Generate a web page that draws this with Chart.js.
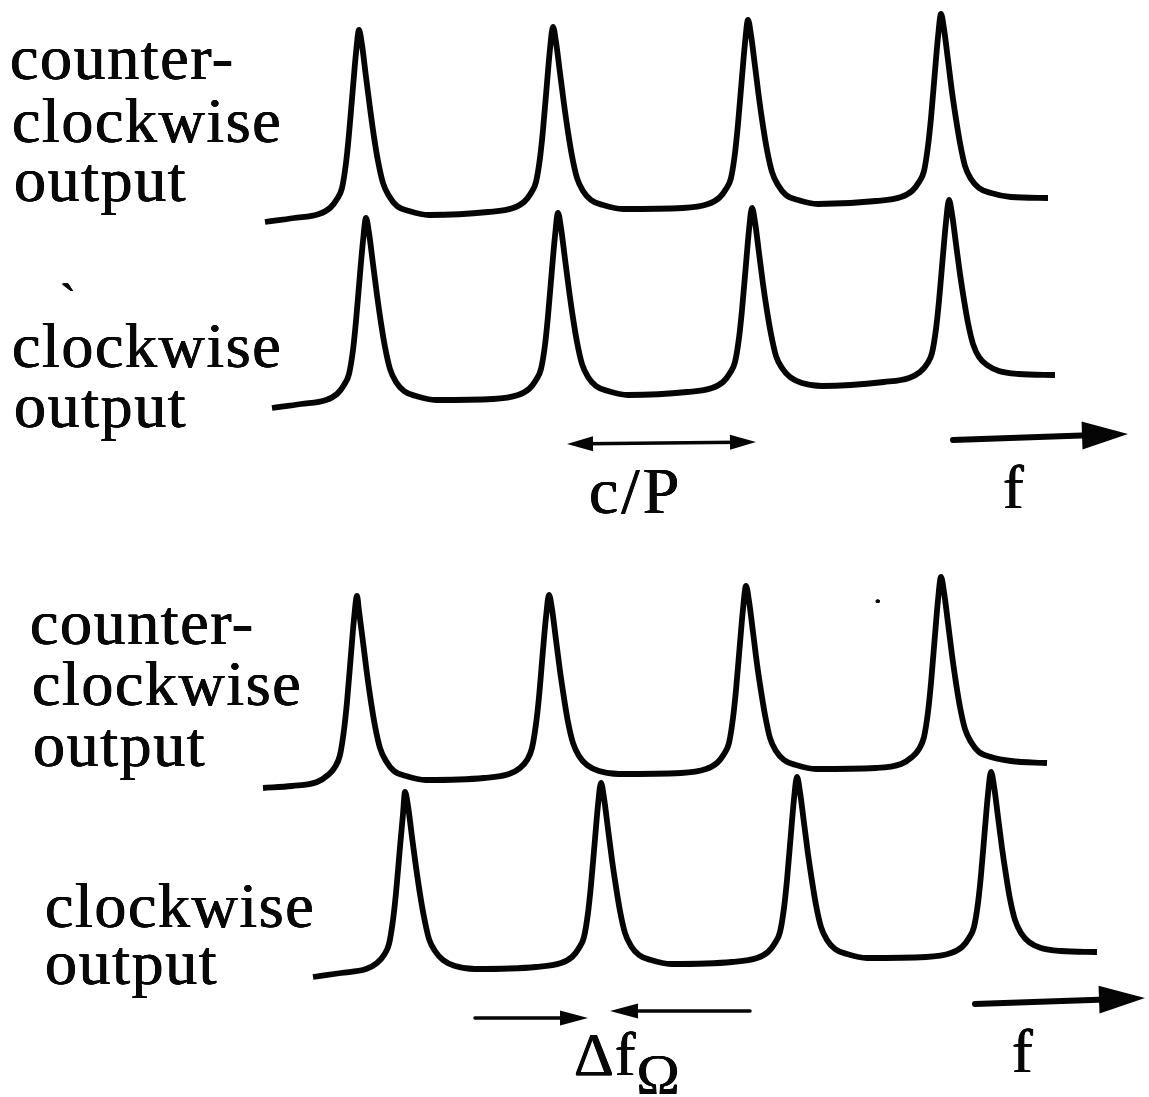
<!DOCTYPE html>
<html>
<head>
<meta charset="utf-8">
<title>Ring resonator outputs</title>
<script src="https://cdn.jsdelivr.net/npm/chart.js@4.4.1/dist/chart.umd.min.js"></script>
<style>
  html, body { margin: 0; padding: 0; background: #fff; }
  #fig { position: relative; width: 1149px; height: 1097px; overflow: hidden; background: #fff; }
  #fig canvas { position: absolute; left: 0; top: 0; }
  .lbl { position: absolute; white-space: nowrap; line-height: 1;
         font-family: 'Liberation Serif', 'Times New Roman', serif; color: #080808;
         text-shadow: 0.45px 0 0 #080808, -0.45px 0 0 #080808, 0 0.3px 0 #080808; }
</style>
</head>
<body>
<div id="fig">
  <canvas id="ccwTop" width="1149" height="1097"></canvas>
  <canvas id="cwTop" width="1149" height="1097"></canvas>
  <canvas id="ccwRot" width="1149" height="1097"></canvas>
  <canvas id="cwRot" width="1149" height="1097"></canvas>
</div>
<script>
// ---------------------------------------------------------------
// Data: transmitted intensity (arb. units) versus frequency (arb. units)
// ---------------------------------------------------------------
const freqRange = [0, 1149];

// Resting resonator: both directions resonate at the same frequencies
const ccwTopFreq  = [265, 294, 319, 330, 337, 342, 346, 349, 353, 356, 359, 362, 366, 370, 374, 378, 383, 389, 397, 409, 429,
                     488, 513, 524, 531, 536, 540, 543, 547, 550, 553, 556, 560, 564, 568, 572, 577, 583, 591, 603, 623,
                     683, 708, 719, 726, 731, 735, 738, 742, 745, 748, 751, 755, 759, 763, 767, 772, 778, 786, 798, 818,
                     876, 901, 912, 919, 924, 928, 931, 935, 938, 941, 944, 948, 952, 956, 960, 965, 971, 979, 991, 1011, 1048];
const ccwTopLevel = [8, 12, 16, 22, 31, 42, 67, 96, 143, 177, 200, 185, 153, 122, 93, 69, 47, 34, 24, 19, 15,
                     18, 22, 28, 37, 48, 72, 100, 147, 181, 203, 188, 157, 126, 98, 74, 52, 39, 30, 25, 21,
                     22, 26, 32, 41, 52, 77, 106, 153, 187, 210, 195, 164, 132, 104, 80, 58, 45, 35, 30, 26,
                     29, 33, 39, 48, 59, 84, 112, 159, 193, 216, 201, 170, 138, 111, 87, 64, 51, 42, 37, 33, 32];

const cwTopFreq   = [272, 301, 326, 337, 344, 349, 353, 356, 360, 363, 366, 369, 373, 377, 381, 385, 390, 396, 404, 416, 436,
                     493, 518, 529, 536, 541, 545, 548, 552, 555, 558, 561, 565, 569, 573, 577, 582, 588, 596, 608, 628,
                     687, 712, 723, 730, 735, 739, 742, 746, 749, 752, 755, 759, 763, 767, 771, 776, 782, 790, 802, 822,
                     884, 909, 920, 927, 932, 936, 939, 943, 946, 949, 952, 956, 960, 964, 968, 973, 979, 987, 999, 1019, 1055];
const cwTopLevel  = [12, 16, 20, 26, 35, 46, 70, 99, 146, 179, 202, 187, 156, 125, 97, 73, 51, 38, 29, 24, 20,
                     21, 25, 31, 40, 51, 75, 104, 151, 184, 207, 192, 161, 130, 102, 78, 56, 43, 34, 29, 25,
                     28, 32, 38, 47, 58, 82, 110, 156, 190, 212, 198, 167, 136, 109, 86, 64, 52, 43, 37, 34,
                     38, 42, 48, 56, 67, 91, 119, 165, 198, 220, 206, 176, 146, 120, 97, 76, 63, 55, 49, 46, 45];

// Rotating resonator: clockwise resonances shifted up by the Sagnac splitting
const ccwRotFreq  = [263, 292, 317, 328, 335, 340, 344, 347, 351, 354, 357, 359, 363, 367, 371, 375, 380, 386, 394, 406, 426,
                     484, 509, 520, 527, 532, 536, 539, 543, 546, 549, 552, 556, 560, 564, 568, 573, 579, 587, 599, 619,
                     681, 706, 717, 724, 729, 733, 736, 740, 743, 746, 749, 753, 757, 761, 765, 770, 776, 784, 796, 816,
                     876, 901, 912, 919, 924, 928, 931, 935, 938, 941, 944, 948, 952, 956, 960, 965, 971, 979, 991, 1011, 1047];
const ccwRotLevel = [12, 14, 18, 25, 33, 45, 70, 98, 146, 181, 204, 189, 158, 126, 98, 74, 52, 39, 29, 24, 20,
                     22, 26, 32, 40, 52, 76, 103, 150, 183, 205, 191, 160, 129, 102, 78, 57, 44, 35, 29, 26,
                     27, 31, 37, 46, 57, 82, 110, 157, 191, 214, 199, 168, 136, 109, 85, 62, 49, 40, 35, 31,
                     32, 36, 43, 51, 63, 88, 117, 165, 200, 223, 208, 177, 145, 117, 93, 71, 58, 48, 43, 39, 37];

const cwRotFreq   = [313, 341, 366, 377, 384, 389, 393, 396, 400, 403, 405, 408, 412, 416, 420, 424, 429, 435, 443, 455, 475,
                     536, 561, 572, 579, 584, 588, 591, 595, 598, 601, 604, 608, 612, 616, 620, 625, 631, 639, 651, 671,
                     732, 757, 768, 775, 780, 784, 787, 791, 794, 797, 800, 804, 808, 812, 816, 821, 827, 835, 847, 867,
                     926, 951, 962, 969, 974, 978, 981, 985, 988, 991, 994, 998, 1002, 1006, 1010, 1015, 1021, 1029, 1041, 1061, 1097];
const cwRotLevel  = [8, 12, 16, 22, 30, 41, 65, 92, 138, 171, 193, 179, 148, 118, 91, 68, 46, 34, 25, 19, 16,
                     18, 22, 28, 37, 48, 72, 100, 146, 180, 202, 187, 156, 125, 98, 74, 52, 39, 30, 25, 21,
                     23, 27, 33, 42, 53, 77, 105, 152, 186, 208, 193, 162, 131, 104, 80, 58, 45, 36, 31, 27,
                     28, 32, 38, 47, 58, 82, 110, 157, 191, 213, 199, 168, 137, 110, 86, 65, 52, 43, 37, 34, 33];

// Interval markers (frequency, level below each trace's zero)
const periodMarkFreq  = [567, 756];   // c/P : free spectral range
const periodMarkLevel = [-24, -22];
const topAxisFreq     = [953, 1128];  // direction of increasing f
const topAxisLevel    = [-20, -14];
const shiftRightFreq  = [475, 588];   // Δf_Ω, pointing in from the left
const shiftRightLevel = [-33, -33];
const shiftLeftFreq   = [750, 610];   // Δf_Ω, pointing in from the right
const shiftLeftLevel  = [-26, -26];
const rotAxisFreq     = [975, 1145];
const rotAxisLevel    = [-19, -13];

// ---------------------------------------------------------------
// Layout
// ---------------------------------------------------------------
const FIG_H = 1097;
const INK = '#050505';

const traces = [
  { id: 'ccwTop', freq: ccwTopFreq, level: ccwTopLevel, floor: 230, marks: [] },
  { id: 'cwTop',  freq: cwTopFreq,  level: cwTopLevel,  floor: 420, marks: [
      { f: periodMarkFreq, v: periodMarkLevel, width: 3.5, head: [26, 7.5], both: true },
      { f: topAxisFreq,    v: topAxisLevel,    width: 6,   head: [46, 14],  both: false } ] },
  { id: 'ccwRot', freq: ccwRotFreq, level: ccwRotLevel, floor: 800, marks: [] },
  { id: 'cwRot',  freq: cwRotFreq,  level: cwRotLevel,  floor: 985, marks: [
      { f: shiftRightFreq, v: shiftRightLevel, width: 3.5, head: [28, 7.5], both: false },
      { f: shiftLeftFreq,  v: shiftLeftLevel,  width: 3.5, head: [28, 7.5], both: false },
      { f: rotAxisFreq,    v: rotAxisLevel,    width: 6,   head: [46, 14],  both: false } ] }
];

function drawHead(ctx, tx, ty, fx, fy, len, half) {
  const a = Math.atan2(ty - fy, tx - fx);
  ctx.save();
  ctx.translate(tx, ty);
  ctx.rotate(a);
  ctx.beginPath();
  ctx.moveTo(0, 0);
  ctx.lineTo(-len, -half);
  ctx.lineTo(-len, half);
  ctx.closePath();
  ctx.fill();
  ctx.restore();
}

const markPlugin = {
  id: 'intervalMarks',
  afterDatasetsDraw(chart) {
    const marks = chart.config.options.plugins.intervalMarks.marks;
    const ctx = chart.ctx, xs = chart.scales.x, ys = chart.scales.y;
    ctx.save();
    ctx.strokeStyle = INK;
    ctx.fillStyle = INK;
    ctx.lineCap = 'round';
    marks.forEach(m => {
      const x0 = xs.getPixelForValue(m.f[0]), y0 = ys.getPixelForValue(m.v[0]);
      const x1 = xs.getPixelForValue(m.f[1]), y1 = ys.getPixelForValue(m.v[1]);
      const len = Math.hypot(x1 - x0, y1 - y0);
      const ux = (x1 - x0) / len, uy = (y1 - y0) / len;
      const inset = m.head[0] * 0.7;
      const sx = m.both ? x0 + ux * inset : x0, sy = m.both ? y0 + uy * inset : y0;
      ctx.lineWidth = m.width;
      ctx.beginPath();
      ctx.moveTo(sx, sy);
      ctx.lineTo(x1 - ux * inset, y1 - uy * inset);
      ctx.stroke();
      drawHead(ctx, x1, y1, x0, y0, m.head[0], m.head[1]);
      if (m.both) drawHead(ctx, x0, y0, x1, y1, m.head[0], m.head[1]);
    });
    ctx.restore();
  }
};

traces.forEach(t => {
  new Chart(document.getElementById(t.id), {
    type: 'line',
    data: {
      datasets: [{
        data: t.freq.map((f, i) => ({ x: f, y: t.level[i] })),
        borderColor: INK,
        borderWidth: 5.8,
        borderCapStyle: 'butt',
        borderJoinStyle: 'round',
        pointRadius: 0,
        fill: false,
        cubicInterpolationMode: 'monotone',
        clip: false
      }]
    },
    options: {
      responsive: false,
      animation: false,
      devicePixelRatio: 1,
      events: [],
      layout: { padding: { left: 0, right: 0, top: 0, bottom: FIG_H - t.floor } },
      plugins: {
        legend: { display: false },
        tooltip: { enabled: false },
        intervalMarks: { marks: t.marks }
      },
      scales: {
        x: { type: 'linear', min: freqRange[0], max: freqRange[1], display: false },
        y: { type: 'linear', min: 0, max: t.floor, display: false }
      }
    },
    plugins: [markPlugin]
  });
});

// ---------------------------------------------------------------
// Text: [text, left, baseline, font size, letter spacing]
// ---------------------------------------------------------------
const labels = [
  ['counter-',  10,  80, 64, 1.6], ['clockwise', 12, 143, 64, 1.6], ['output', 14, 202, 64, 1.6],
  ['clockwise', 12, 368, 64, 1.6], ['output',    14, 428, 64, 1.6],
  ['counter-',  30, 645, 64, 1.6], ['clockwise', 32, 706, 64, 1.6], ['output', 33, 767, 64, 1.6],
  ['clockwise', 45, 928, 64, 1.6], ['output',    45, 985, 64, 1.6],
  ['c/P', 589, 513, 66, 3], ['f', 1003, 508, 62, 0], ['f', 1012, 1072, 62, 0],
  ['`', 60, 318, 48, 0], ['.', 874, 603, 30, 0]
];
const fig = document.getElementById('fig');
function place(text, x, base, size, spacing) {
  const d = document.createElement('div');
  d.className = 'lbl';
  d.textContent = text;
  d.style.fontSize = size + 'px';
  d.style.letterSpacing = spacing + 'px';
  d.style.left = x + 'px';
  d.style.top = (base - 0.8375 * size) + 'px';
  fig.appendChild(d);
  return d;
}
labels.forEach(l => place(...l));

// Δf with subscript Ω
const shift = place('Δf', 574, 1075, 62, 1);
const sub = document.createElement('span');
sub.textContent = 'Ω';
sub.style.fontSize = '58px';
sub.style.position = 'relative';
sub.style.top = '19px';
shift.appendChild(sub);
</script>
</body>
</html>
